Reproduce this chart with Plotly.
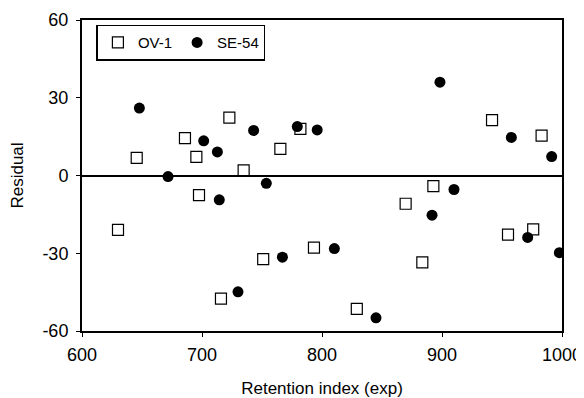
import plotly.graph_objects as go

ov1_x = [630, 645.6, 685.8, 695.3, 722.8, 697.5, 715.8, 734.7, 765.3, 782,
         751, 793.3, 829, 869.7, 892.8, 883.6, 941.7, 983, 955, 976]
ov1_y = [-21, 6.8, 14.4, 7.2, 22.3, -7.6, -47.5, 2.0, 10.3, 18,
         -32.3, -27.8, -51.5, -10.9, -4.1, -33.5, 21.4, 15.4, -22.8, -20.8]

se54_x = [647.8, 671.7, 701.4, 712.8, 714.4, 730, 743, 753.6, 779.4, 796,
          767, 810.3, 845, 898.3, 891.7, 910, 957.8, 991.4, 971.4, 997.8]
se54_y = [26.0, -0.4, 13.4, 9.1, -9.4, -44.9, 17.4, -3.0, 18.9, 17.6,
          -31.5, -28.2, -54.9, 36.0, -15.3, -5.4, 14.7, 7.3, -23.9, -29.8]

x_ticks = [600, 700, 800, 900, 1000]
y_ticks = [-60, -30, 0, 30, 60]

FONT = "Liberation Sans, Arial, sans-serif"

fig = go.Figure()
fig.add_trace(go.Scatter(
    x=ov1_x, y=ov1_y, mode="markers", name="OV-1",
    marker=dict(symbol="square-open", size=11, color="black", line=dict(width=1.2)),
))
fig.add_trace(go.Scatter(
    x=se54_x, y=se54_y, mode="markers", name="SE-54",
    marker=dict(symbol="circle", size=11, color="black"),
))

fig.update_layout(
    width=576, height=390,
    margin=dict(l=74, r=22, t=12, b=67),
    paper_bgcolor="white", plot_bgcolor="white",
    font=dict(family=FONT, size=17, color="black"),
    showlegend=True,
    legend=dict(
        orientation="h", x=0.03, y=0.985, xanchor="left", yanchor="top",
        bordercolor="black", borderwidth=1.5, bgcolor="white",
        font=dict(family=FONT, size=15, color="black"),
        itemwidth=30, tracegroupgap=0,
    ),
    xaxis=dict(
        range=[600, 1000], tickvals=x_ticks, ticktext=[str(v) for v in x_ticks],
        showline=True, linecolor="black", linewidth=2, mirror=True,
        ticks="outside", ticklen=4, tickcolor="black", ticklabelstandoff=2,
        showgrid=False, zeroline=False, automargin=False,
        title=dict(text="Retention index (exp)", font=dict(size=17), standoff=23),
        tickfont=dict(size=18),
    ),
    yaxis=dict(
        range=[-60, 60], tickvals=y_ticks, ticktext=[str(v) for v in y_ticks],
        showline=True, linecolor="black", linewidth=2, mirror=True,
        ticks="outside", ticklen=4, tickcolor="black", ticklabelstandoff=4,
        showgrid=False, zeroline=True, zerolinecolor="black", zerolinewidth=1.5,
        automargin=False,
        title=dict(text="Residual", font=dict(size=17), standoff=14),
        tickfont=dict(size=18),
    ),
)

fig.write_html("out.html")
